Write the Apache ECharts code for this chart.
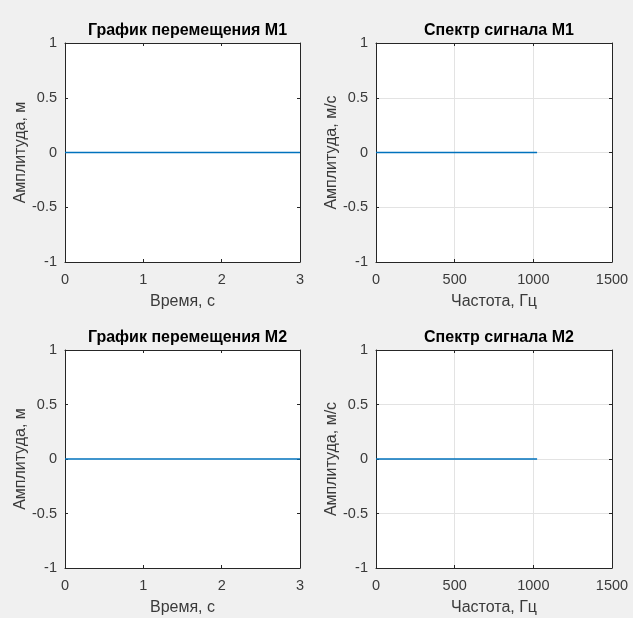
<!DOCTYPE html>
<html>
<head>
<meta charset="utf-8">
<script src="https://cdn.jsdelivr.net/npm/echarts@6/dist/echarts.min.js"></script>
<style>
html,body{margin:0;padding:0;background:#f0f0f0;}
#chart{width:633px;height:618px;}
</style>
</head>
<body>
<div id="chart"></div>
<script>
// ---- data ----
const titles = ['График перемещения M1', 'Спектр сигнала M1', 'График перемещения M2', 'Спектр сигнала M2'];
const xNames = ['Время, с', 'Частота, Гц', 'Время, с', 'Частота, Гц'];
const yNames = ['Амплитуда, м', 'Амплитуда, м/с', 'Амплитуда, м', 'Амплитуда, м/с'];
const timeS = [0, 3];
const dispM1 = [0, 0];
const dispM2 = [0, 0];
const freqHz = [0, 1024];
const specM1 = [0, 0];
const specM2 = [0, 0];
const timeRange = [0, 3, 1];
const freqRange = [0, 1500, 500];
const ampRange = [-1, 1, 0.5];

// ---- layout / style ----
const FONT = 'Liberation Sans, Arial, Helvetica, sans-serif';
const AX = '#262626';
const GRIDC = '#e3e3e3';
const BLUE = '#0072BD';
const grids = [
  {left: 65, top: 43, width: 235, height: 219},
  {left: 376, top: 43, width: 236, height: 219},
  {left: 65, top: 350, width: 235, height: 218},
  {left: 376, top: 350, width: 236, height: 218}
];
const xs = [timeS, freqHz, timeS, freqHz];
const ys = [dispM1, specM1, dispM2, specM2];
const xr = [timeRange, freqRange, timeRange, freqRange];
const showGrid = [false, true, false, true];

const option = {
  backgroundColor: '#f0f0f0',
  animation: false,
  title: [], grid: [], xAxis: [], yAxis: [], series: []
};

const fmt = v => String(v);

grids.forEach((g, i) => {
  option.grid.push(Object.assign({containLabel: false, show: true, backgroundColor: '#ffffff', borderWidth: 0}, g));
  option.title.push({
    text: titles[i], left: g.left + g.width / 2, top: g.top - 25, textAlign: 'center',
    textStyle: {fontFamily: FONT, fontSize: 16, fontWeight: 'bold', color: '#000'}
  });
  const r = xr[i];
  const baseX = {
    type: 'value', gridIndex: i, min: r[0], max: r[1], interval: r[2],
    axisLine: {show: true, onZero: false, lineStyle: {color: AX, width: 1}},
    axisTick: {show: true, inside: true, length: 3, lineStyle: {color: AX}},
    splitLine: {show: false}
  };
  option.xAxis.push(Object.assign({}, baseX, {
    position: 'bottom',
    name: xNames[i], nameLocation: 'middle', nameGap: 32,
    nameTextStyle: {fontFamily: FONT, fontSize: 16, color: '#3a3a3a'},
    axisLabel: {fontFamily: FONT, fontSize: 14.5, color: '#3a3a3a', margin: 10, formatter: fmt},
    splitLine: {show: showGrid[i], lineStyle: {color: GRIDC, width: 1}}
  }));
  option.xAxis.push(Object.assign({}, baseX, {position: 'top', axisLabel: {show: false}}));
  const baseY = {
    type: 'value', gridIndex: i, min: ampRange[0], max: ampRange[1], interval: ampRange[2],
    axisLine: {show: true, onZero: false, lineStyle: {color: AX, width: 1}},
    axisTick: {show: true, inside: true, length: 3, lineStyle: {color: AX}},
    splitLine: {show: false}
  };
  option.yAxis.push(Object.assign({}, baseY, {
    position: 'left',
    name: yNames[i], nameLocation: 'middle', nameGap: 36,
    nameTextStyle: {fontFamily: FONT, fontSize: 16, color: '#3a3a3a'},
    axisLabel: {fontFamily: FONT, fontSize: 14.5, color: '#3a3a3a', margin: 8, formatter: fmt},
    splitLine: {show: showGrid[i], lineStyle: {color: GRIDC, width: 1}}
  }));
  option.yAxis.push(Object.assign({}, baseY, {position: 'right', axisLabel: {show: false}}));
  option.series.push({
    type: 'line', xAxisIndex: 2 * i, yAxisIndex: 2 * i,
    data: xs[i].map((x, k) => [x, ys[i][k]]),
    showSymbol: false, lineStyle: {color: BLUE, width: 1.3}, z: 5
  });
});

const chart = echarts.init(document.getElementById('chart'));
chart.setOption(option);
</script>
</body>
</html>
